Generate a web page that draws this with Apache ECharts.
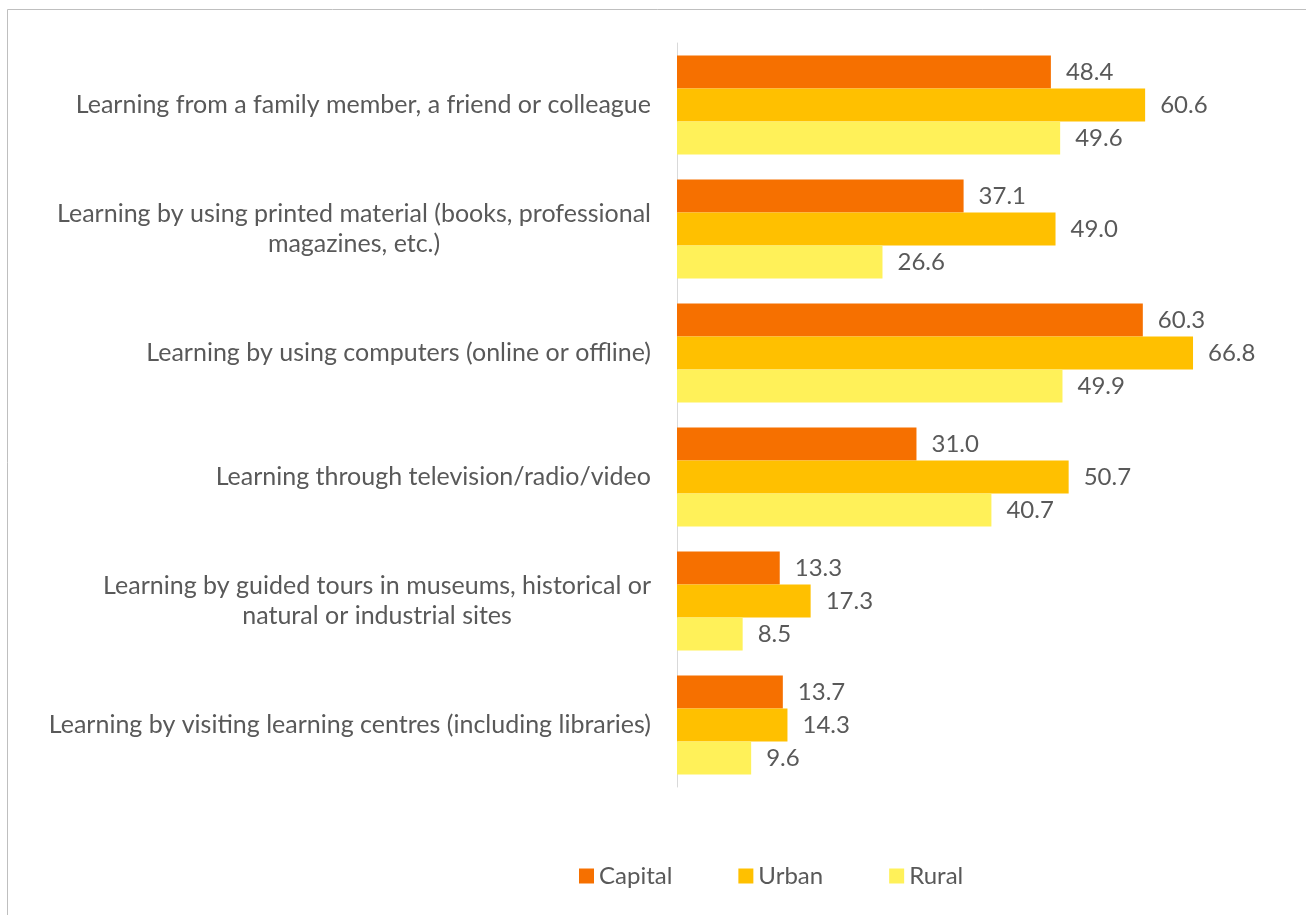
<!DOCTYPE html>
<html>
<head>
<meta charset="utf-8">
<script src="https://cdn.jsdelivr.net/npm/echarts@6/dist/echarts.min.js"></script>
<style>
  html, body { margin: 0; padding: 0; background: #fff; }
  #chart { width: 1306px; height: 915px; }
</style>
</head>
<body>
<div id="chart"></div>
<script>
// Learning methods by settlement type (%)
const categories = [
  'Learning from a family member, a friend or colleague',
  'Learning by using printed material (books, professional\nmagazines, etc.)',
  'Learning by using computers (online or offline)',
  'Learning through television/radio/video',
  'Learning by guided tours in museums, historical or\nnatural or industrial sites',
  'Learning by visiting learning centres (including libraries)'
];
const seriesNames = ['Capital', 'Urban', 'Rural'];
const capital = [48.4, 37.1, 60.3, 31.0, 13.3, 13.7];
const urban   = [60.6, 49.0, 66.8, 50.7, 17.3, 14.3];
const rural   = [49.6, 26.6, 49.9, 40.7, 8.5, 9.6];
const colors = ['#F67000', '#FFC000', '#FFF159'];

const FONT = 'Lato';
const TEXT = '#595959';
const FS = 24;
const CAT_FS = 25;

const chart = echarts.init(document.getElementById('chart'));
const values = [capital, urban, rural];

chart.setOption({
  animation: false,
  backgroundColor: '#ffffff',
  textStyle: { fontFamily: FONT, color: TEXT },
  graphic: [{
    type: 'rect',
    shape: { x: 7.5, y: 9.5, width: 1400, height: 1000 },
    style: { fill: 'none', stroke: '#bfbfbf', lineWidth: 1 },
    silent: true
  }],
  grid: { left: 677, right: 11, top: 43, bottom: 128, containLabel: false },
  xAxis: {
    type: 'value', min: 0, max: 80,
    axisLine: { show: false }, axisTick: { show: false },
    axisLabel: { show: false }, splitLine: { show: false }
  },
  yAxis: {
    type: 'category', data: categories, inverse: true,
    axisLine: { show: true, lineStyle: { color: '#d9d9d9', width: 1 } },
    axisTick: { show: false },
    axisLabel: {
      margin: 26, align: 'right',
      // each line centred within the right-anchored label block
      formatter: v => v.split('\n').map(l => '{c|' + l + '}').join('\n'),
      rich: {
        c: { align: 'center', fontFamily: FONT, fontSize: CAT_FS, color: TEXT, lineHeight: 30 }
      }
    }
  },
  legend: {
    left: 579, top: 864, padding: 0, itemWidth: 15, itemHeight: 15, itemGap: 66,
    icon: 'rect',
    textStyle: { fontFamily: FONT, fontSize: FS, color: TEXT },
    data: seriesNames
  },
  series: seriesNames.map((name, i) => ({
    name, type: 'bar', data: values[i],
    barGap: '0%', barCategoryGap: '20%',
    itemStyle: { color: colors[i] },
    label: {
      show: true, position: 'right', distance: 15,
      fontFamily: FONT, fontSize: FS, color: TEXT,
      formatter: p => p.value.toFixed(1)
    }
  }))
});
</script>
</body>
</html>
